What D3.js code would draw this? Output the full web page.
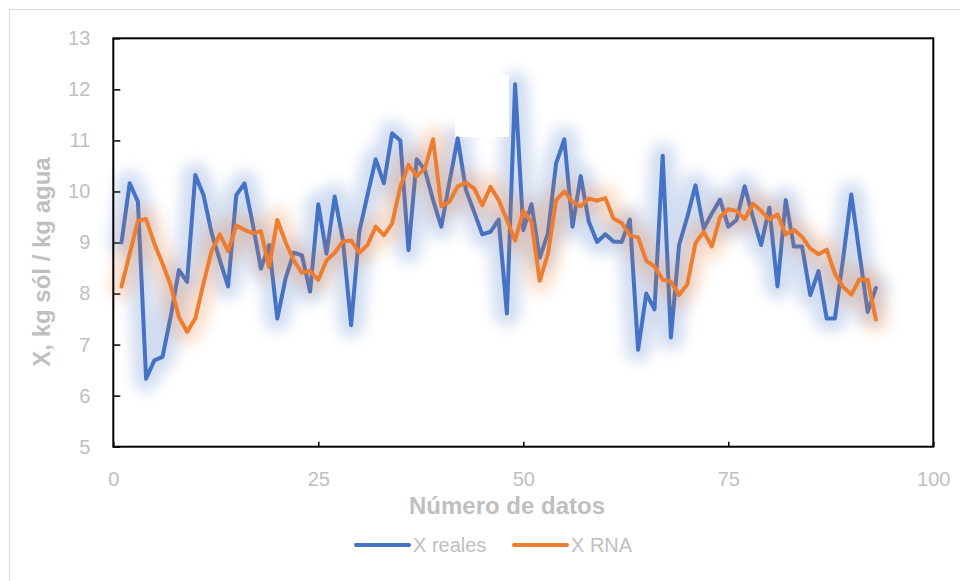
<!DOCTYPE html>
<html>
<head>
<meta charset="utf-8">
<script src="https://cdn.jsdelivr.net/npm/d3@7"></script>
<style>
  body { margin: 0; background: #fff; }
  svg { display: block; font-family: "Liberation Sans", Arial, sans-serif; }
</style>
</head>
<body>
<div id="chart"></div>
<script>
// values (point n = index + 1)
var xReales = [9.0, 10.16, 9.8, 6.33, 6.69, 6.76, 7.55, 8.46, 8.23, 10.32,
  9.93, 9.18, 8.65, 8.14, 9.93, 10.16, 9.37, 8.49, 8.95, 7.51,
  8.29, 8.8, 8.75, 8.04, 9.75, 8.78, 9.9, 9.05, 7.38, 9.21,
  9.93, 10.63, 10.16, 11.14, 11.0, 8.85, 10.63, 10.42, 9.83, 9.31,
  10.19, 11.04, 10.03, 9.6, 9.16, 9.21, 9.45, 7.61, 12.1, 9.24,
  9.75, 8.7, 9.18, 10.55, 11.02, 9.31, 10.3, 9.4, 9.01, 9.16,
  9.02, 9.01, 9.45, 6.9, 8.0, 7.69, 10.7, 7.14, 8.95, 9.5,
  10.12, 9.27, 9.57, 9.84, 9.31, 9.44, 10.1, 9.5, 8.95, 9.68,
  8.14, 9.83, 8.92, 8.92, 7.97, 8.44, 7.51, 7.51, 8.68, 9.94,
  8.78, 7.64, 8.11];

var xRNA = [8.14, 8.78, 9.42, 9.46, 8.98, 8.59, 8.16, 7.54, 7.25, 7.51,
  8.2, 8.84, 9.16, 8.83, 9.33, 9.25, 9.18, 9.22, 8.52, 9.44,
  9.01, 8.65, 8.41, 8.44, 8.27, 8.65, 8.8, 9.02, 9.04, 8.8,
  8.95, 9.31, 9.14, 9.37, 10.09, 10.52, 10.3, 10.45, 11.02, 9.71,
  9.8, 10.1, 10.17, 10.06, 9.73, 10.09, 9.83, 9.44, 9.04, 9.62,
  9.4, 8.25, 8.77, 9.83, 10.0, 9.8, 9.71, 9.86, 9.82, 9.87,
  9.47, 9.38, 9.14, 9.1, 8.64, 8.53, 8.27, 8.23, 7.97, 8.18,
  8.99, 9.21, 8.92, 9.5, 9.65, 9.62, 9.46, 9.76, 9.62, 9.45,
  9.55, 9.16, 9.25, 9.11, 8.88, 8.77, 8.86, 8.39, 8.13, 7.98,
  8.28, 8.27, 7.49];

var xTicks = [0, 25, 50, 75, 100];
var yTicks = [5, 6, 7, 8, 9, 10, 11, 12, 13];
var seriesNames = ["X reales", "X RNA"];

var width = 960, height = 581;
var margin = {top: 38.3, right: 26.7, bottom: 134.3, left: 113.3};
var grey = "#bfbfbf";
var colors = ["#4472c4", "#ed7d31"];

var svg = d3.select("#chart").append("svg")
  .attr("width", width)
  .attr("height", height);

// outer chart border
svg.append("rect")
  .attr("x", 9.5).attr("y", 9.5)
  .attr("width", 1000).attr("height", 1000)
  .attr("fill", "none")
  .attr("stroke", "#d9d9d9")
  .attr("stroke-width", 1);

var defs = svg.append("defs");
defs.append("filter")
  .attr("id", "glow")
  .attr("x", "-20%").attr("y", "-20%")
  .attr("width", "140%").attr("height", "140%")
  .append("feGaussianBlur")
  .attr("stdDeviation", 7);

var x = d3.scaleLinear()
  .domain([0, 100])
  .range([margin.left, width - margin.right]);

var y = d3.scaleLinear()
  .domain([5, 13])
  .range([height - margin.bottom, margin.top]);

var line = d3.line()
  .x(function(d, i) { return x(i + 1); })
  .y(function(d) { return y(d); });

//axes
var xAxis = d3.axisBottom(x)
  .tickValues(xTicks)
  .tickSizeInner(-5)
  .tickSizeOuter(0)
  .tickPadding(25);

var yAxis = d3.axisLeft(y)
  .tickValues(yTicks)
  .tickSizeInner(-7)
  .tickSizeOuter(0)
  .tickPadding(23);

var gx = svg.append("g")
  .attr("transform", "translate(0," + y(5) + ")")
  .call(xAxis);

var gy = svg.append("g")
  .attr("transform", "translate(" + x(0) + ",0)")
  .call(yAxis);

[gx, gy].forEach(function(g) {
  g.select(".domain").remove();
  g.selectAll(".tick line").attr("stroke", "#000").attr("stroke-width", 1.5);
  g.selectAll(".tick text")
    .attr("fill", grey)
    .style("font-size", "20px")
    .style("font-family", "'Liberation Sans', Arial, sans-serif");
});

// series: glow first, then line
[xReales, xRNA].forEach(function(values, k) {
  svg.append("path")
    .datum(values)
    .attr("d", line)
    .attr("fill", "none")
    .attr("stroke", colors[k])
    .attr("stroke-width", 26)
    .attr("stroke-linejoin", "round")
    .attr("stroke-linecap", "round")
    .attr("opacity", 0.24)
    .attr("filter", "url(#glow)");

  if (k === 0) {
    // white patch sitting over the glow in the original image
    svg.append("rect")
      .attr("x", 455).attr("y", 75)
      .attr("width", 54).attr("height", 62)
      .attr("fill", "#fff");
  }

  svg.append("path")
    .datum(values)
    .attr("d", line)
    .attr("fill", "none")
    .attr("stroke", colors[k])
    .attr("stroke-width", 4)
    .attr("stroke-linejoin", "round")
    .attr("stroke-linecap", "round");
});

// plot frame
svg.append("rect")
  .attr("x", x(0)).attr("y", y(13))
  .attr("width", x(100) - x(0))
  .attr("height", y(5) - y(13))
  .attr("fill", "none")
  .attr("stroke", "#000")
  .attr("stroke-width", 2);

// axis titles
svg.append("text")
  .attr("x", 507)
  .attr("y", 514)
  .attr("text-anchor", "middle")
  .attr("fill", grey)
  .style("font-size", "24px")
  .style("font-weight", "bold")
  .text("Número de datos");

svg.append("text")
  .attr("transform", "translate(50,262) rotate(-90)")
  .attr("text-anchor", "middle")
  .attr("fill", grey)
  .style("font-size", "24px")
  .style("font-weight", "bold")
  .text("X, kg sól / kg agua");

// legend
var legendX = [356, 514];
var legend = svg.selectAll(".legend")
  .data(seriesNames)
  .enter().append("g")
  .attr("class", "legend")
  .attr("transform", function(d, i) { return "translate(" + legendX[i] + ",545)"; });

legend.append("line")
  .attr("x1", 0).attr("x2", 53)
  .attr("stroke", function(d, i) { return colors[i]; })
  .attr("stroke-width", 4)
  .attr("stroke-linecap", "round");

legend.append("text")
  .attr("x", 57)
  .attr("dy", "0.35em")
  .attr("fill", grey)
  .style("font-size", "20px")
  .text(function(d) { return d; });
</script>
</body>
</html>
